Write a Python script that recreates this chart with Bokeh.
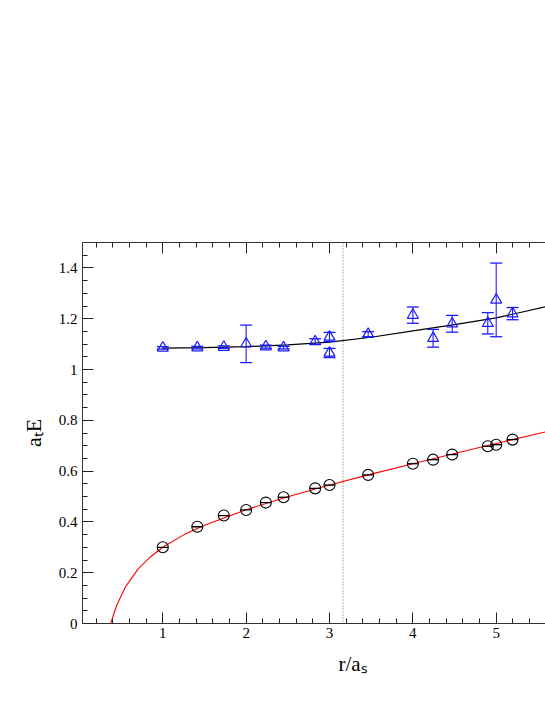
import numpy as np
from bokeh.plotting import figure
from bokeh.models import LinearAxis, FixedTicker, Span, Title, Range1d
from bokeh.embed import file_html
from bokeh.resources import INLINE

# ---- data ----
r_circ = [1.0, 1.414, 1.732, 2.0, 2.236, 2.449, 2.828, 3.0, 3.464, 4.0, 4.243, 4.472, 4.899, 5.0, 5.196]
E_circ = [0.300, 0.381, 0.425, 0.447, 0.476, 0.497, 0.532, 0.545, 0.585, 0.629, 0.645, 0.665, 0.698, 0.704, 0.724]

r_tri = [1.0, 1.414, 1.732, 2.0, 2.236, 2.449, 2.828, 3.0, 3.0, 3.464, 4.0, 4.243, 4.472, 4.899, 5.0, 5.196]
E_tri = [1.085, 1.086, 1.088, 1.101, 1.090, 1.086, 1.110, 1.128, 1.065, 1.139, 1.214, 1.123, 1.180, 1.182, 1.274, 1.220]
err_tri = [0.005, 0.005, 0.005, 0.074, 0.006, 0.005, 0.011, 0.018, 0.018, 0.010, 0.032, 0.035, 0.033, 0.042, 0.145, 0.024]

# fitted curves
r_red = [0.374, 0.45, 0.55, 0.7, 0.85, 1.0, 1.25, 1.5, 2.0, 2.5, 3.0, 3.5, 4.0, 4.5, 5.0, 5.6]
E_red = [0.0, 0.074, 0.143, 0.213, 0.262, 0.300, 0.349, 0.387, 0.448, 0.499, 0.545, 0.588, 0.629, 0.669, 0.709, 0.755]

r_blk = [1.0, 1.5, 2.0, 2.5, 3.0, 3.5, 4.0, 4.5, 5.0, 5.6]
E_blk = [1.084, 1.086, 1.090, 1.097, 1.108, 1.127, 1.152, 1.177, 1.203, 1.248]

r_vline = 3.162

x_ticks = [1, 2, 3, 4, 5]
x_tick_labels = ["1", "2", "3", "4", "5"]
y_ticks = [0.0, 0.2, 0.4, 0.6, 0.8, 1.0, 1.2, 1.4]
y_tick_labels = ["0", "0.2", "0.4", "0.6", "0.8", "1", "1.2", "1.4"]

x_title = "r/a\u209b"   # r/a_s
y_title = "a\u209cE"    # a_t E

FONT = "'Liberation Serif', 'Times New Roman', serif"

p = figure(width=545, height=697,
           x_range=Range1d(0.0366, 5.5915), y_range=Range1d(0.0, 1.5),
           output_backend="svg", toolbar_location=None,
           min_border_left=82, min_border_right=0,
           min_border_top=242, min_border_bottom=74)
p.outline_line_color = None
p.xgrid.visible = False
p.ygrid.visible = False
p.background_fill_color = "white"
p.border_fill_color = "white"

x_minor = [round(v, 2) for v in np.arange(0.2, 5.6, 0.2)]
y_minor = [round(v, 3) for v in np.arange(0.05, 1.5, 0.05)]
xt = FixedTicker(ticks=x_ticks, minor_ticks=x_minor)
yt = FixedTicker(ticks=y_ticks, minor_ticks=y_minor)


def style(ax):
    ax.axis_line_color = "#333333"
    ax.axis_line_width = 1
    ax.major_tick_line_color = "#222222"
    ax.minor_tick_line_color = "#222222"
    ax.major_tick_in = 11
    ax.major_tick_out = 0
    ax.minor_tick_in = 5
    ax.minor_tick_out = 0
    ax.major_label_text_font = FONT
    ax.major_label_text_font_size = "15px"
    ax.major_label_text_color = "black"


xa = p.xaxis[0]
xa.ticker = xt
xa.major_label_overrides = {t: l for t, l in zip(x_ticks, x_tick_labels)}
style(xa)
xa.major_label_standoff = 4

ya = p.yaxis[0]
ya.ticker = yt
ya.major_label_overrides = {t: l for t, l in zip(y_ticks, y_tick_labels)}
style(ya)
ya.major_label_standoff = 5
ya.axis_label = y_title
ya.axis_label_text_font = FONT
ya.axis_label_text_font_size = "22px"
ya.axis_label_text_font_style = "normal"
ya.axis_label_text_color = "black"
ya.axis_label_standoff = 10

top = LinearAxis(ticker=xt)
style(top)
top.major_label_text_font_size = "0px"
top.major_label_text_color = None
p.add_layout(top, "above")

p.add_layout(Title(text=x_title, align="left", offset=256, vertical_align="bottom",
                   standoff=18, text_font=FONT, text_font_size="21px",
                   text_font_style="normal", text_color="black"), "below")

# dotted vertical line
p.add_layout(Span(location=r_vline, dimension="height", line_color="#666666",
                  line_dash="1 2", line_width=1))

# curves
p.line(r_red, E_red, line_color="#ff0000", line_width=1.1)
p.line(r_blk, E_blk, line_color="black", line_width=1.2)

# circles with tiny error bars
p.scatter(r_circ, E_circ, marker="circle", size=11, fill_color=None,
          line_color="black", line_width=1.1)
p.scatter(r_circ, E_circ, marker="dash", size=11, line_color="black", line_width=1.3)

# triangles with error bars
lo = [e - d for e, d in zip(E_tri, err_tri)]
hi = [e + d for e, d in zip(E_tri, err_tri)]
BLUE = "#1a1aff"
p.segment(r_tri, lo, r_tri, hi, line_color=BLUE, line_width=1.1)
p.scatter(r_tri, lo, marker="dash", size=12, line_color=BLUE, line_width=1.3)
p.scatter(r_tri, hi, marker="dash", size=12, line_color=BLUE, line_width=1.3)
p.scatter(r_tri, E_tri, marker="triangle", size=11, fill_color=None,
          line_color=BLUE, line_width=1.2)

open("out.html", "w").write(file_html(p, INLINE))
